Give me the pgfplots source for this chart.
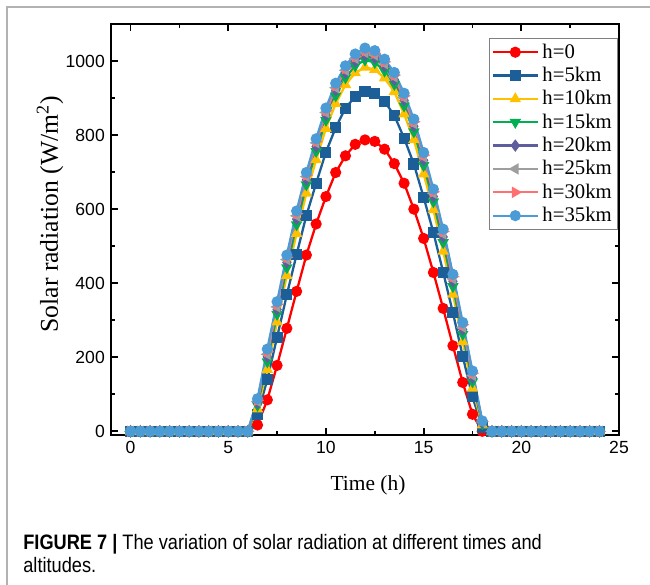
\documentclass[border=0pt]{standalone}
\usepackage{fontspec}
\setmainfont{Liberation Sans}
\newfontfamily\tnr{Liberation Serif}
\newfontfamily\capfont[FakeStretch=0.87]{Liberation Sans}
\usepackage{pgfplots}
\usepackage{pgfplotstable}
\pgfplotsset{compat=1.18}

\definecolor{cA}{HTML}{FF0000}
\definecolor{cB}{HTML}{1B5E98}
\definecolor{cC}{HTML}{FFC000}
\definecolor{cD}{HTML}{00B050}
\definecolor{cE}{HTML}{5E5E9E}
\definecolor{cF}{HTML}{9E9E9E}
\definecolor{cG}{HTML}{FF7171}
\definecolor{cH}{HTML}{4A9BD6}

% solar radiation (W/m^2), every half hour
\pgfplotstableread{
t    h0   h5   h10  h15  h20  h25  h30  h35
0    0    0    0    0    0    0    0    0
0.5  0    0    0    0    0    0    0    0
1    0    0    0    0    0    0    0    0
1.5  0    0    0    0    0    0    0    0
2    0    0    0    0    0    0    0    0
2.5  0    0    0    0    0    0    0    0
3    0    0    0    0    0    0    0    0
3.5  0    0    0    0    0    0    0    0
4    0    0    0    0    0    0    0    0
4.5  0    0    0    0    0    0    0    0
5    0    0    0    0    0    0    0    0
5.5  0    0    0    0    0    0    0    0
6    0    0    0    0    0    0    0    0
6.5  17   45   60   70   77   81   84   88
7    85   140  167  188  201  208  215  222
7.5  178  254  295  316  329  336  343  350
8    278  369  421  442  456  464  470  476
8.5  378  478  534  558  573  582  588  595
9    476  583  643  666  679  688  692  699
9.5  560  670  733  756  769  779  783  790
10   634  754  818  840  854  861  866  873
10.5 699  820  885  906  921  928  933  940
11   744  873  936  955  968  975  980  987
11.5 775  904  968  987  999  1007 1012 1019
12   787  918  983  1003 1015 1023 1028 1035
12.5 783  913  977  996  1008 1016 1021 1028
13   762  891  954  973  986  993  998  1005
13.5 723  853  917  937  949  957  962  969
14   670  792  857  879  894  901  906  913
14.5 600  722  787  809  824  831  836  843
15   521  632  695  718  732  741  746  753
15.5 429  537  598  620  634  643  647  654
16   332  430  486  510  525  533  540  546
16.5 231  320  370  391  405  412  418  424
17   132  203  242  262  275  281  288  294
17.5 46   93   116  134  145  151  157  163
18   0    11   17   21   24   25   27   28
18.5 0    0    0    0    0    0    0    0
19   0    0    0    0    0    0    0    0
19.5 0    0    0    0    0    0    0    0
20   0    0    0    0    0    0    0    0
20.5 0    0    0    0    0    0    0    0
21   0    0    0    0    0    0    0    0
21.5 0    0    0    0    0    0    0    0
22   0    0    0    0    0    0    0    0
22.5 0    0    0    0    0    0    0    0
23   0    0    0    0    0    0    0    0
23.5 0    0    0    0    0    0    0    0
24   0    0    0    0    0    0    0    0
}\solar

\begin{document}
\begin{tikzpicture}
\path[use as bounding box] (0,0) rectangle (13,-11.68);
\draw[gray!60, line width=0.9pt] (0.14,-11.8) -- (0.14,-0.14) -- (13.2,-0.14);
\begin{axis}[
  at={(2.22cm,-8.7cm)}, anchor=south west,
  scale only axis, width=10.16cm, height=8.22cm,
  xmin=-1, xmax=25, ymin=-10, ymax=1100,
  xtick={0,5,...,25}, ytick={0,200,...,1000},
  minor x tick num=1, minor y tick num=1,
  tick align=inside,
  major tick length=4pt, minor tick length=2.5pt,
  axis line style={line width=1.1pt},
  every tick/.style={black, line width=1pt},
  /pgf/number format/assume math mode=true,
  /pgf/number format/1000 sep={},
  ticklabel style={font=\fontsize{10}{12}\selectfont},
  xlabel={Time (h)},
  ylabel={Solar radiation (W/m\textsuperscript{2})},
  xlabel style={font=\tnr\fontsize{12.2}{14}\selectfont,
    at={(axis description cs:0.506,-0.122)}, anchor=center},
  ylabel style={font=\tnr\fontsize{14.6}{16}\selectfont,
    at={(axis description cs:-0.12,0.537)}, anchor=center},
  every axis plot/.append style={line width=1.3pt, mark size=2.5pt, mark options={solid}},
  legend cell align=left,
  legend style={at={(rel axis cs:0.997,0.966)}, anchor=north east,
    draw=gray, line width=0.5pt, inner sep=1pt, row sep=-0.4pt,
    font=\tnr\fontsize{11.8}{13}\selectfont},
  legend image code/.code={\draw[mark repeat=2,mark phase=2] plot coordinates {(0cm,0cm) (0.45cm,0cm) (0.9cm,0cm)};},
]
\addplot[cA, mark=*] table[x=t, y=h0] {\solar};
\addplot[cB, mark=square*] table[x=t, y=h5] {\solar};
\addplot[cC, mark=triangle*] table[x=t, y=h10] {\solar};
\addplot[cD, mark=triangle*, mark options={rotate=180}] table[x=t, y=h15] {\solar};
\addplot[cE, mark=diamond*] table[x=t, y=h20] {\solar};
\addplot[cF, mark=triangle*, mark options={rotate=90}] table[x=t, y=h25] {\solar};
\addplot[cG, mark=triangle*, mark options={rotate=-90}] table[x=t, y=h30] {\solar};
\addplot[cH, mark=*] table[x=t, y=h35] {\solar};
\legend{h=0, h=5km, h=10km, h=15km, h=20km, h=25km, h=30km, h=35km}
\end{axis}
\node[anchor=base west, inner sep=0pt] at (0.46,-10.99)
  {\capfont\fontsize{11.9}{14}\selectfont\textbf{FIGURE 7 |} The variation of solar radiation at different times and};
\node[anchor=base west, inner sep=0pt] at (0.46,-11.45)
  {\capfont\fontsize{11.9}{14}\selectfont altitudes.};
\end{tikzpicture}
\end{document}
